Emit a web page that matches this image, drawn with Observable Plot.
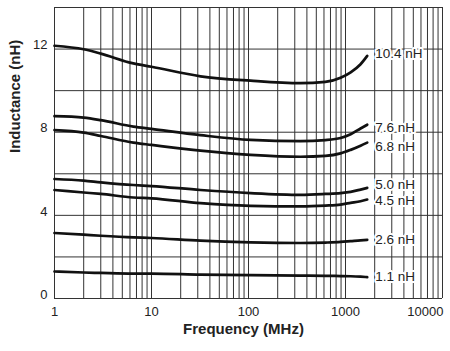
<!DOCTYPE html>
<html>
<head>
<meta charset="utf-8">
<script src="https://cdn.jsdelivr.net/npm/d3@7"></script>
<script src="https://cdn.jsdelivr.net/npm/@observablehq/plot@0.6"></script>
<style>
  html, body { margin: 0; padding: 0; background: #fff; }
  #chart svg { display: block; }
</style>
</head>
<body>
<div id="chart"></div>
<script>
// Frequencies (MHz) at which the curves were read
const freqs = [1, 2, 3, 6.5, 10, 32, 105, 344, 620, 890, 1130, 1430, 1675];
// Inductance (nH) for each nominal part
const L10_4 = [12.16, 11.99, 11.78, 11.31, 11.15, 10.69, 10.48, 10.36, 10.42, 10.62, 10.88, 11.27, 11.67];
const L7_6  = [8.77, 8.70, 8.58, 8.27, 8.16, 7.86, 7.63, 7.57, 7.62, 7.72, 7.90, 8.18, 8.36];
const L6_8  = [8.10, 7.98, 7.82, 7.50, 7.39, 7.11, 6.91, 6.82, 6.86, 6.98, 7.15, 7.35, 7.50];
const L5_0  = [5.75, 5.67, 5.59, 5.46, 5.41, 5.22, 5.07, 4.99, 5.03, 5.07, 5.13, 5.24, 5.32];
const L4_5  = [5.22, 5.10, 5.03, 4.86, 4.82, 4.59, 4.46, 4.43, 4.47, 4.52, 4.60, 4.68, 4.76];
const L2_6  = [3.15, 3.07, 3.02, 2.94, 2.91, 2.78, 2.70, 2.67, 2.69, 2.72, 2.76, 2.80, 2.82];
const L1_1  = [1.30, 1.25, 1.23, 1.20, 1.20, 1.15, 1.12, 1.10, 1.09, 1.08, 1.07, 1.05, 1.03];
const seriesNames = ["10.4 nH", "7.6 nH", "6.8 nH", "5.0 nH", "4.5 nH", "2.6 nH", "1.1 nH"];
const seriesValues = [L10_4, L7_6, L6_8, L5_0, L4_5, L2_6, L1_1];

const xTicks = [1, 10, 100, 1000];
const xTickLast = [10000];
const yTicks = [0, 4, 8, 12];
const yGrid = [0, 2, 4, 6, 8, 10, 12, 14];
const xTitle = "Frequency (MHz)";
const yTitle = "Inductance (nH)";

const rows = seriesNames.flatMap((name, i) =>
  freqs.map((f, j) => ({name, f, L: seriesValues[i][j]})));

const xGrid = d3.scaleLog().domain([1, 10000]).ticks();

// small vertical nudges of the end labels (pixels)
const labelNudge = {"10.4 nH": -2, "7.6 nH": 3, "6.8 nH": 4, "5.0 nH": -3, "4.5 nH": 1, "2.6 nH": 0, "1.1 nH": 0};

const font = "'Liberation Sans', Arial, Helvetica, sans-serif";

const labelMarks = seriesNames.map(name =>
  Plot.text(rows, Plot.selectLast({
    filter: d => d.name === name,
    x: "f", y: "L", text: "name", textAnchor: "start", dx: 8, dy: labelNudge[name],
    fontSize: 13.5, fill: "#222", stroke: "white", strokeWidth: 4
  })));

const chart = Plot.plot({
  width: 450,
  height: 351,
  marginLeft: 54,
  marginRight: 8,
  marginTop: 7,
  marginBottom: 53,
  style: {fontFamily: font, background: "#fff", color: "#222"},
  x: {type: "log", domain: [1, 10000]},
  y: {domain: [0, 14]},
  marks: [
    Plot.ruleX(xGrid, {stroke: "#333", strokeWidth: 1}),
    Plot.ruleY(yGrid, {stroke: "#333", strokeWidth: 1}),
    Plot.axisX(xTicks, {tickSize: 0, tickPadding: 8, fontSize: 13, tickFormat: d => String(d), label: null, fill: "#222"}),
    Plot.axisX(xTickLast, {tickSize: 0, tickPadding: 8, fontSize: 13, tickFormat: d => String(d), label: null, textAnchor: "end", dx: 1, fill: "#222"}),
    Plot.axisY(yTicks, {tickSize: 0, tickPadding: 7, fontSize: 13, dy: -4, label: null, fill: "#222"}),
    Plot.line(rows, {x: "f", y: "L", z: "name", curve: "monotone-x", stroke: "#111", strokeWidth: 2.7}),
    ...labelMarks,
    Plot.text([xTitle], {frameAnchor: "bottom", dy: 35, dx: -5, fontSize: 15, fontWeight: "bold", fill: "#222"}),
    Plot.text([yTitle], {frameAnchor: "left", dx: -39, rotate: -90, fontSize: 15, fontWeight: "bold", fill: "#222"})
  ]
});
document.getElementById("chart").appendChild(chart);
</script>
</body>
</html>
